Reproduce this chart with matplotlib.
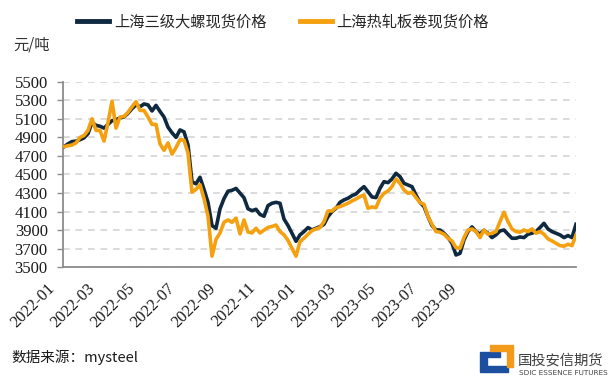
import numpy as np
import matplotlib
matplotlib.use('Agg')
import matplotlib.pyplot as plt
from matplotlib.patches import Polygon

plt.rcParams['font.family'] = ['Noto Sans CJK SC', 'DejaVu Sans']

# spot prices, sampled evenly along the time axis (yuan/ton)
rebar = [4800, 4830, 4855, 4860, 4875, 4895, 4940, 5060, 5030, 5020, 5000, 5040, 5080, 5090, 5110, 5120, 5160,
         5210, 5250, 5230, 5260, 5250, 5185, 5245, 5180, 5120,
         5010, 4950, 4900, 4980, 4960, 4820, 4420, 4400, 4470, 4340, 4200, 3950, 3920, 4130, 4240, 4320, 4330,
         4350, 4300, 4250, 4130, 4110, 4125, 4070, 4050,
         4165, 4190, 4200, 4190, 4020, 3950, 3867, 3780, 3849, 3885, 3928, 3903, 3920, 3938, 3963, 4046, 4100,
         4136, 4200, 4226, 4244, 4272, 4290, 4333, 4369, 4315,
         4258, 4251, 4351, 4423, 4412, 4452, 4513, 4477, 4405, 4387, 4369, 4279, 4200, 4154, 4046, 3949, 3902,
         3902, 3867, 3820, 3759, 3633, 3650, 3795, 3885,
         3935, 3885, 3856, 3899, 3867, 3820, 3849, 3892, 3902, 3856, 3813, 3813, 3827, 3820, 3856, 3867, 3885,
         3928, 3974, 3913, 3885, 3867, 3849, 3820, 3842, 3820, 3963]
hrc = [4800, 4810, 4818, 4840, 4900, 4920, 4975, 5100, 4975, 4975, 4860, 5060, 5290, 5000, 5120, 5125, 5170,
       5230, 5285, 5190, 5190, 5120, 5040, 5040, 4830, 4760,
       4840, 4720, 4790, 4875, 4870, 4730, 4310, 4340, 4390, 4240, 4050, 3620, 3800, 3870, 3985, 4010, 3985,
       4030, 3860, 4010, 3880, 3870, 3920, 3870, 3900,
       3930, 3940, 3955, 3885, 3850, 3790, 3705, 3620, 3777, 3813, 3856, 3895, 3913, 3928, 3992, 4107, 4107,
       4143, 4154, 4172, 4190, 4215, 4236, 4261, 4279, 4136,
       4150, 4143, 4244, 4297, 4322, 4369, 4452, 4405, 4333, 4297, 4308, 4251, 4197, 4179, 4046, 3963, 3885,
       3878, 3856, 3813, 3784, 3712, 3705, 3820, 3902,
       3913, 3885, 3820, 3902, 3856, 3867, 3885, 3992, 4093, 3992, 3913, 3885, 3878, 3902, 3885, 3913, 3867,
       3885, 3856, 3806, 3784, 3759, 3734, 3727, 3748, 3734, 3845]
month_labels = ['2022-01', '2022-03', '2022-05', '2022-07', '2022-09', '2022-11',
                '2023-01', '2023-03', '2023-05', '2023-07', '2023-09']
yticks = [3500, 3700, 3900, 4100, 4300, 4500, 4700, 4900, 5100, 5300, 5500]
series_names = ['上海三级大螺现货价格', '上海热轧板卷现货价格']

dark = '#0f2a40'
orange = '#f5a00f'
axis_gray = '#8c8c8c'

fig = plt.figure(figsize=(6.13, 3.82), dpi=100)
ax = fig.add_axes([0.1028, 0.3003, 0.8368, 0.4858])

x = np.arange(len(rebar))
l1, = ax.plot(x, rebar, color=dark, lw=2.6, solid_joinstyle='round', zorder=3)
l2, = ax.plot(x, hrc, color=orange, lw=2.6, solid_joinstyle='round', zorder=4)

ax.set_xlim(-0.25, len(rebar) - 1)
ax.set_ylim(3500, 5500)
ax.set_yticks(yticks)
ax.set_yticklabels([str(v) for v in yticks], family='Liberation Serif', fontsize=12, color='#1a1a1a')
ax.tick_params(axis='y', length=4, width=1, color=axis_gray, pad=7)
ax.set_xticks([])
ax.yaxis.grid(True, color='#d4d4d4', linestyle=(0, (4, 3.5)), lw=1.2)
ax.set_axisbelow(True)
for s in ['top', 'right']:
    ax.spines[s].set_visible(False)
for s in ['left', 'bottom']:
    ax.spines[s].set_color(axis_gray)
    ax.spines[s].set_linewidth(1.3)

# month labels, about every 10 samples
step = 10.05
for k, lab in enumerate(month_labels):
    ax.text(-1.5 + step * k, -0.07, lab, transform=ax.get_xaxis_transform(),
            rotation=45, ha='right', va='top', family='Liberation Serif', fontsize=12, color='#1a1a1a')

fig.legend([l1, l2], series_names, loc='center', bbox_to_anchor=(0.462, 0.942), ncol=2, frameon=False,
           fontsize=11, handlelength=2.1, handletextpad=0.3, columnspacing=2.2, labelcolor='#262626')
for h in fig.legends[0].legend_handles:
    h.set_linewidth(3.5)

fig.text(0.021, 0.882, '元/吨', fontsize=11, color='#333333', va='center')
fig.text(0.019, 0.065, '数据来源：mysteel', fontsize=10.5, color='#1a1a1a', va='center')

# logo
blue = '#1c4fa0'
fig.patches.append(Polygon([[480, 352], [500, 352], [500, 357], [487, 357], [487, 366], [508, 366], [508, 372],
                            [480, 372]], closed=True, transform=None, color=blue))
fig.patches.append(Polygon([[490, 345], [513, 345], [513, 367], [507, 367], [507, 351], [490, 351]],
                           closed=True, transform=None, color='#f39a1b'))
for p in fig.patches:
    xy = p.get_xy()
    xy[:, 1] = 382 - xy[:, 1]
    p.set_xy(xy)
fig.text(0.8445, 0.0575, '国投安信期货', fontsize=10.3, color='#404040', va='center')
fig.text(0.846, 0.024, 'SDIC ESSENCE FUTURES', fontsize=5.2, color='#404040', va='center',
         family=['Liberation Sans Narrow', 'DejaVu Sans'])

fig.savefig('out.png', dpi=100)
